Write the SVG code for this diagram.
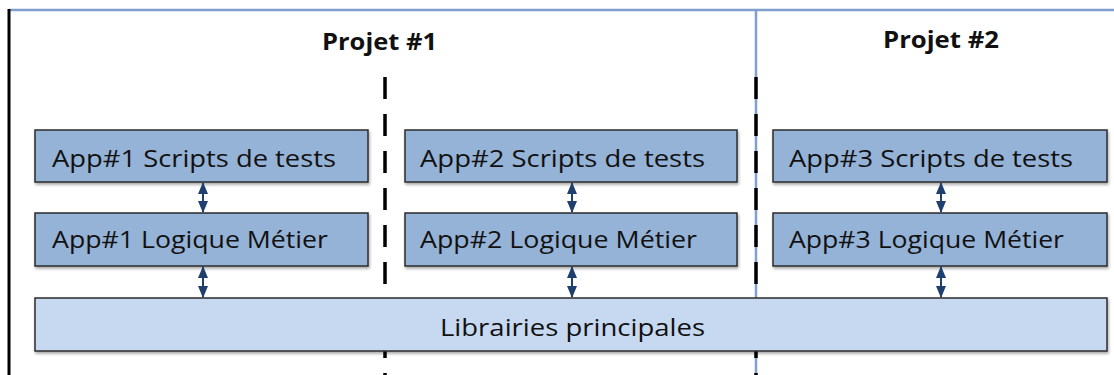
<svg xmlns="http://www.w3.org/2000/svg" width="1114" height="375" viewBox="0 0 1114 375">
  <defs>
    <filter id="shadow" x="-5%" y="-20%" width="110%" height="150%">
      <feDropShadow dx="1" dy="2" stdDeviation="1.5" flood-color="#000" flood-opacity="0.35"/>
    </filter>
    <marker id="head" viewBox="0 0 12 10" refX="11" refY="5" markerWidth="12" markerHeight="10" markerUnits="userSpaceOnUse" orient="auto-start-reverse">
      <path d="M0,0 L12,5 L0,10 Z" fill="#1F3F6E"/>
    </marker>
    <style>
      .app { fill: #95B3D7; stroke: #2B2B2B; stroke-width: 1.5; filter: url(#shadow); }
      .lib { fill: #C6D9F1; stroke: #2B2B2B; stroke-width: 1.5; filter: url(#shadow); }
      .label { font-family: "Open Sans", "Liberation Sans", sans-serif; font-size: 24px; fill: #111; }
      .title { font-family: "Open Sans", "Liberation Sans", sans-serif; font-size: 24px; font-weight: bold; fill: #111; }
      .frame { stroke: #7F9FCF; stroke-width: 2.5; fill: none; }
      .edge { stroke: #000; stroke-width: 3; fill: none; }
      .dash { stroke: #000; stroke-width: 3.5; stroke-dasharray: 22 15; fill: none; }
      .conn { stroke: #1F3F6E; stroke-width: 2; fill: none; marker-start: url(#head); marker-end: url(#head); }
    </style>
  </defs>

  <rect width="1114" height="375" fill="#fff"/>

  <!-- project frames -->
  <g id="frames">
    <line class="frame" x1="9" y1="10" x2="1114" y2="10"/>
    <line class="frame" x1="756" y1="10" x2="756" y2="375"/>
    <line class="edge" x1="9" y1="9" x2="9" y2="375"/>
    <line class="dash" x1="385" y1="77" x2="385" y2="375"/>
    <line class="dash" x1="756" y1="77" x2="756" y2="375"/>
  </g>

  <g id="titles">
    <text class="title" x="322" y="50" textLength="115" lengthAdjust="spacingAndGlyphs">Projet #1</text>
    <text class="title" x="883" y="48" textLength="116" lengthAdjust="spacingAndGlyphs">Projet #2</text>
  </g>

  <!-- shared library -->
  <g id="lib">
    <rect class="lib" x="35" y="298" width="1072" height="53"/>
    <text class="label" x="440" y="336" textLength="265" lengthAdjust="spacingAndGlyphs">Librairies principales</text>
  </g>

  <!-- application 1 -->
  <g id="app1-tests">
    <rect class="app" x="35" y="130" width="333" height="52"/>
    <text class="label" x="52" y="167" textLength="284" lengthAdjust="spacingAndGlyphs">App#1 Scripts de tests</text>
  </g>
  <g id="app1-logic">
    <rect class="app" x="35" y="213" width="333" height="53"/>
    <text class="label" x="52" y="248" textLength="276" lengthAdjust="spacingAndGlyphs">App#1 Logique Métier</text>
  </g>

  <!-- application 2 -->
  <g id="app2-tests">
    <rect class="app" x="405" y="130" width="332" height="52"/>
    <text class="label" x="420" y="167" textLength="285" lengthAdjust="spacingAndGlyphs">App#2 Scripts de tests</text>
  </g>
  <g id="app2-logic">
    <rect class="app" x="405" y="213" width="332" height="53"/>
    <text class="label" x="420" y="248" textLength="277" lengthAdjust="spacingAndGlyphs">App#2 Logique Métier</text>
  </g>

  <!-- application 3 -->
  <g id="app3-tests">
    <rect class="app" x="773" y="130" width="334" height="52"/>
    <text class="label" x="789" y="167" textLength="284" lengthAdjust="spacingAndGlyphs">App#3 Scripts de tests</text>
  </g>
  <g id="app3-logic">
    <rect class="app" x="773" y="213" width="334" height="53"/>
    <text class="label" x="789" y="248" textLength="275" lengthAdjust="spacingAndGlyphs">App#3 Logique Métier</text>
  </g>

  <!-- two-way links between layers -->
  <g id="connectors">
    <line class="conn" x1="203" y1="183" x2="203" y2="212"/>
    <line class="conn" x1="203" y1="267" x2="203" y2="297"/>
    <line class="conn" x1="572" y1="183" x2="572" y2="212"/>
    <line class="conn" x1="572" y1="267" x2="572" y2="297"/>
    <line class="conn" x1="941" y1="183" x2="941" y2="212"/>
    <line class="conn" x1="941" y1="267" x2="941" y2="297"/>
  </g>
</svg>
